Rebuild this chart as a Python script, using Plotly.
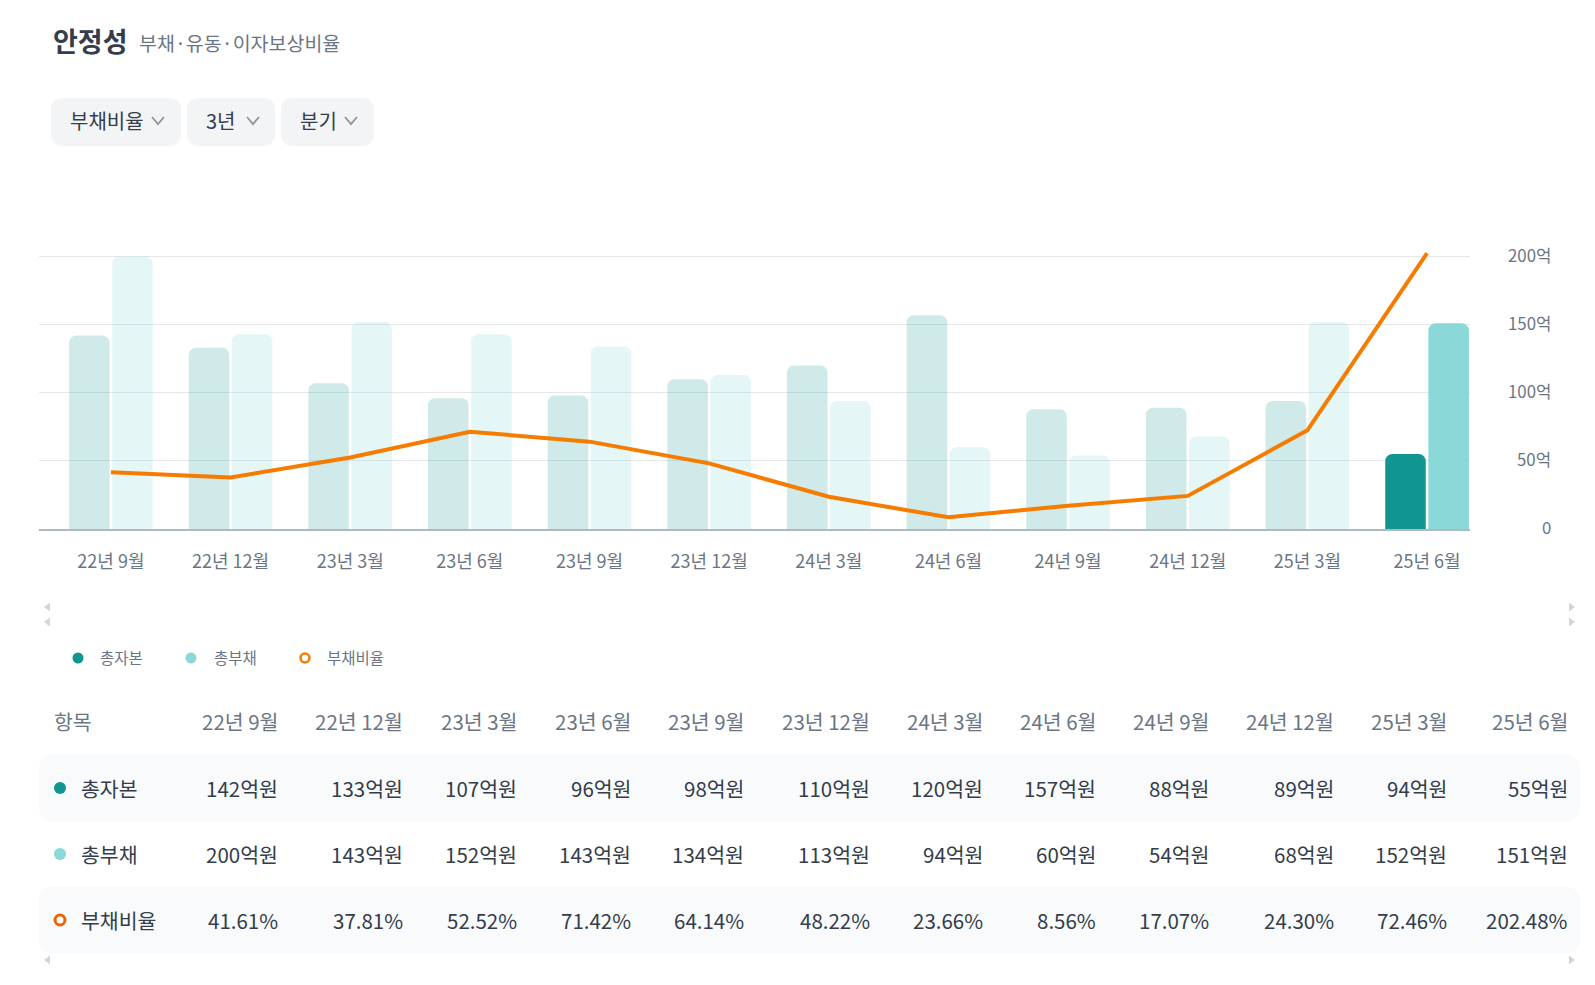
import plotly.graph_objects as go

# ---------------- data ----------------
periods = ["22년 9월", "22년 12월", "23년 3월", "23년 6월", "23년 9월", "23년 12월",
           "24년 3월", "24년 6월", "24년 9월", "24년 12월", "25년 3월", "25년 6월"]
total_equity = [142, 133, 107, 96, 98, 110, 120, 157, 88, 89, 94, 55]      # 총자본 (억원)
total_debt = [200, 143, 152, 143, 134, 113, 94, 60, 54, 68, 152, 151]      # 총부채 (억원)
debt_ratio = [41.61, 37.81, 52.52, 71.42, 64.14, 48.22, 23.66, 8.56, 17.07, 24.30, 72.46, 202.48]  # 부채비율 (%)
y_ticks = [0, 50, 100, 150, 200]
y_tick_labels = ["0", "50억", "100억", "150억", "200억"]
series_names = ["총자본", "총부채", "부채비율"]

# ---------------- layout geometry (pixels) ----------------
W, H = 1595, 985
ML, MR, MT, MB = 39, 125, 243, 456
PW = W - ML - MR
PH = H - MT - MB
BASE = H - MB

FONT = "Noto Sans CJK KR, Noto Sans, sans-serif"
DARK = "#333d4b"
GRAY = "#6b7684"
TEAL = "#109592"
TEAL_L = "#8ad8d8"
ORANGE = "#f57c00"


def px(x):
    return (x - ML) / PW


def py(y):
    return (BASE - y) / PH


def rrect(x0, y0, x1, y1, r):
    pts = [
        ("M", [(x0 + r, y0)]), ("L", [(x1 - r, y0)]), ("Q", [(x1, y0), (x1, y0 + r)]),
        ("L", [(x1, y1 - r)]), ("Q", [(x1, y1), (x1 - r, y1)]), ("L", [(x0 + r, y1)]),
        ("Q", [(x0, y1), (x0, y1 - r)]), ("L", [(x0, y0 + r)]), ("Q", [(x0, y0), (x0 + r, y0)]),
    ]
    s = ""
    for cmd, ps in pts:
        s += cmd + " " + " ".join(f"{px(a):.5f},{py(b):.5f}" for a, b in ps) + " "
    return s + "Z"


n = len(periods)
last = n - 1
eq_colors = [TEAL if i == last else "rgba(16,149,146,0.20)" for i in range(n)]
debt_colors = [TEAL_L if i == last else "rgba(138,216,216,0.22)" for i in range(n)]

fig = go.Figure()
fig.add_trace(go.Bar(x=periods, y=total_equity, name=series_names[0],
                     marker=dict(color=eq_colors, line=dict(width=0))))
fig.add_trace(go.Bar(x=periods, y=total_debt, name=series_names[1],
                     marker=dict(color=debt_colors, line=dict(width=0))))
fig.add_trace(go.Scatter(x=periods, y=debt_ratio, name=series_names[2], mode="lines",
                         line=dict(color=ORANGE, width=4), yaxis="y2"))

shapes = []
annotations = []

# ---- header: title and dropdown pills ----
annotations.append(dict(x=px(51), y=py(40), xref="paper", yref="paper", text="<b>안정성</b>",
                        showarrow=False, xanchor="left", yanchor="middle",
                        font=dict(size=27, color=DARK, family=FONT)))
annotations.append(dict(x=px(137), y=py(43), xref="paper", yref="paper", text="부채·유동·이자보상비율",
                        showarrow=False, xanchor="left", yanchor="middle",
                        font=dict(size=19.5, color=GRAY, family=FONT)))

pills = [("부채비율", 51, 181, 68, 152), ("3년", 187, 275, 204, 247), ("분기", 281, 374, 298, 345)]
for label, x0, x1, tx, cx in pills:
    shapes.append(dict(type="path", path=rrect(x0, 98, x1, 146, 12), xref="paper", yref="paper",
                       fillcolor="#f2f4f6", line=dict(width=0)))
    annotations.append(dict(x=px(tx), y=py(121), xref="paper", yref="paper", text=label,
                            showarrow=False, xanchor="left", yanchor="middle",
                            font=dict(size=20, color=DARK, family=FONT)))
    shapes.append(dict(type="path",
                       path=f"M {px(cx):.5f},{py(117):.5f} L {px(cx + 6):.5f},{py(124):.5f} L {px(cx + 12):.5f},{py(117):.5f}",
                       xref="paper", yref="paper", line=dict(color="#8b95a1", width=1.8)))

# ---- right-aligned y tick labels ----
for v, t in zip(y_ticks, y_tick_labels):
    annotations.append(dict(x=px(1553), y=v, xref="paper", yref="y", text=t, showarrow=False,
                            xanchor="right", yanchor="middle", yshift=2,
                            font=dict(size=16.8, color=GRAY, family=FONT)))

# ---- scroll arrows ----
def tri(xtip, yc, left=True):
    if left:
        p = f"M {px(xtip):.5f},{py(yc):.5f} L {px(xtip + 6):.5f},{py(yc - 4.5):.5f} L {px(xtip + 6):.5f},{py(yc + 4.5):.5f} Z"
    else:
        p = f"M {px(xtip):.5f},{py(yc):.5f} L {px(xtip - 6):.5f},{py(yc - 4.5):.5f} L {px(xtip - 6):.5f},{py(yc + 4.5):.5f} Z"
    return dict(type="path", path=p, xref="paper", yref="paper", fillcolor="#d1d6db", line=dict(width=0))

for yc in (607, 622, 960):
    shapes.append(tri(44, yc, True))
    shapes.append(tri(1575, yc, False))

# ---- legend ----
leg_y = 658
legend_items = [(78, 98, "dot", TEAL), (191, 212, "dot", TEAL_L), (305, 325, "ring", ORANGE)]
for (cx, tx, kind, col), name in zip(legend_items, series_names):
    r = 5.5
    if kind == "dot":
        shapes.append(dict(type="circle", xref="paper", yref="paper", x0=px(cx - r), x1=px(cx + r),
                           y0=py(leg_y + r), y1=py(leg_y - r), fillcolor=col, line=dict(width=0)))
    else:
        shapes.append(dict(type="circle", xref="paper", yref="paper", x0=px(cx - 4.5), x1=px(cx + 4.5),
                           y0=py(leg_y + 4.5), y1=py(leg_y - 4.5), fillcolor="white",
                           line=dict(color=col, width=2.5)))
    annotations.append(dict(x=px(tx), y=py(leg_y - 1), xref="paper", yref="paper", text=name,
                            showarrow=False, xanchor="left", yanchor="middle",
                            font=dict(size=15.5, color=GRAY, family=FONT)))

# ---- table ----
col_right = [280, 405, 519, 633, 746, 872, 985, 1098, 1211, 1336, 1449, 1570]
row_y = [788, 854, 920]
header_y = 721
for y0, y1 in ((755, 821), (887, 953)):
    shapes.append(dict(type="path", path=rrect(39, y0, 1580, y1, 14), xref="paper", yref="paper",
                       fillcolor="#f9fafb", line=dict(width=0)))

annotations.append(dict(x=px(52), y=py(header_y), xref="paper", yref="paper", text="항목",
                        showarrow=False, xanchor="left", yanchor="middle",
                        font=dict(size=20.5, color=GRAY, family=FONT)))
for xr, p in zip(col_right, periods):
    annotations.append(dict(x=px(xr), y=py(header_y), xref="paper", yref="paper", text=p,
                            showarrow=False, xanchor="right", yanchor="middle",
                            font=dict(size=20.5, color=GRAY, family=FONT)))

rows = [
    [f"{v}억원" for v in total_equity],
    [f"{v}억원" for v in total_debt],
    [f"{v:.2f}%" for v in debt_ratio],
]
row_markers = [("dot", TEAL), ("dot", TEAL_L), ("ring", ORANGE)]
for ry, name, (kind, col), vals in zip(row_y, series_names, row_markers, rows):
    cx = 60
    if kind == "dot":
        shapes.append(dict(type="circle", xref="paper", yref="paper", x0=px(cx - 6), x1=px(cx + 6),
                           y0=py(ry + 6), y1=py(ry - 6), fillcolor=col, line=dict(width=0)))
    else:
        shapes.append(dict(type="circle", xref="paper", yref="paper", x0=px(cx - 5), x1=px(cx + 5),
                           y0=py(ry + 5), y1=py(ry - 5), fillcolor="white",
                           line=dict(color="#f06400", width=3)))
    annotations.append(dict(x=px(79), y=py(ry), xref="paper", yref="paper", text=name,
                            showarrow=False, xanchor="left", yanchor="middle",
                            font=dict(size=20.5, color=DARK, family=FONT)))
    for xr, t in zip(col_right, vals):
        annotations.append(dict(x=px(xr), y=py(ry), xref="paper", yref="paper", text=t,
                                showarrow=False, xanchor="right", yanchor="middle",
                                font=dict(size=20.5, color=DARK, family=FONT)))

fig.update_layout(
    width=W, height=H,
    margin=dict(l=ML, r=MR, t=MT, b=MB, pad=0),
    paper_bgcolor="white", plot_bgcolor="white",
    font=dict(family=FONT, color=GRAY),
    showlegend=False,
    barmode="group", bargap=0.279, bargroupgap=0.06, barcornerradius=7,
    xaxis=dict(type="category", range=[-0.601, 11.359], showgrid=False, zeroline=False,
               showline=True, linecolor="#b0b8c1", linewidth=1.5, ticks="",
               tickfont=dict(size=18, color=GRAY, family=FONT), ticklabelstandoff=16,
               fixedrange=True),
    yaxis=dict(range=[0, 210], tickvals=y_ticks, showticklabels=False, showgrid=True,
               gridcolor="#e5e8eb", gridwidth=1, zeroline=False, fixedrange=True),
    yaxis2=dict(range=[0, 210], overlaying="y", side="right", showticklabels=False,
                showgrid=False, zeroline=False, fixedrange=True),
    shapes=shapes,
    annotations=annotations,
    hovermode=False,
)

fig.write_html("out.html", config={"displayModeBar": False},
               post_script="document.body.style.margin='0';document.body.style.overflow='hidden';")
